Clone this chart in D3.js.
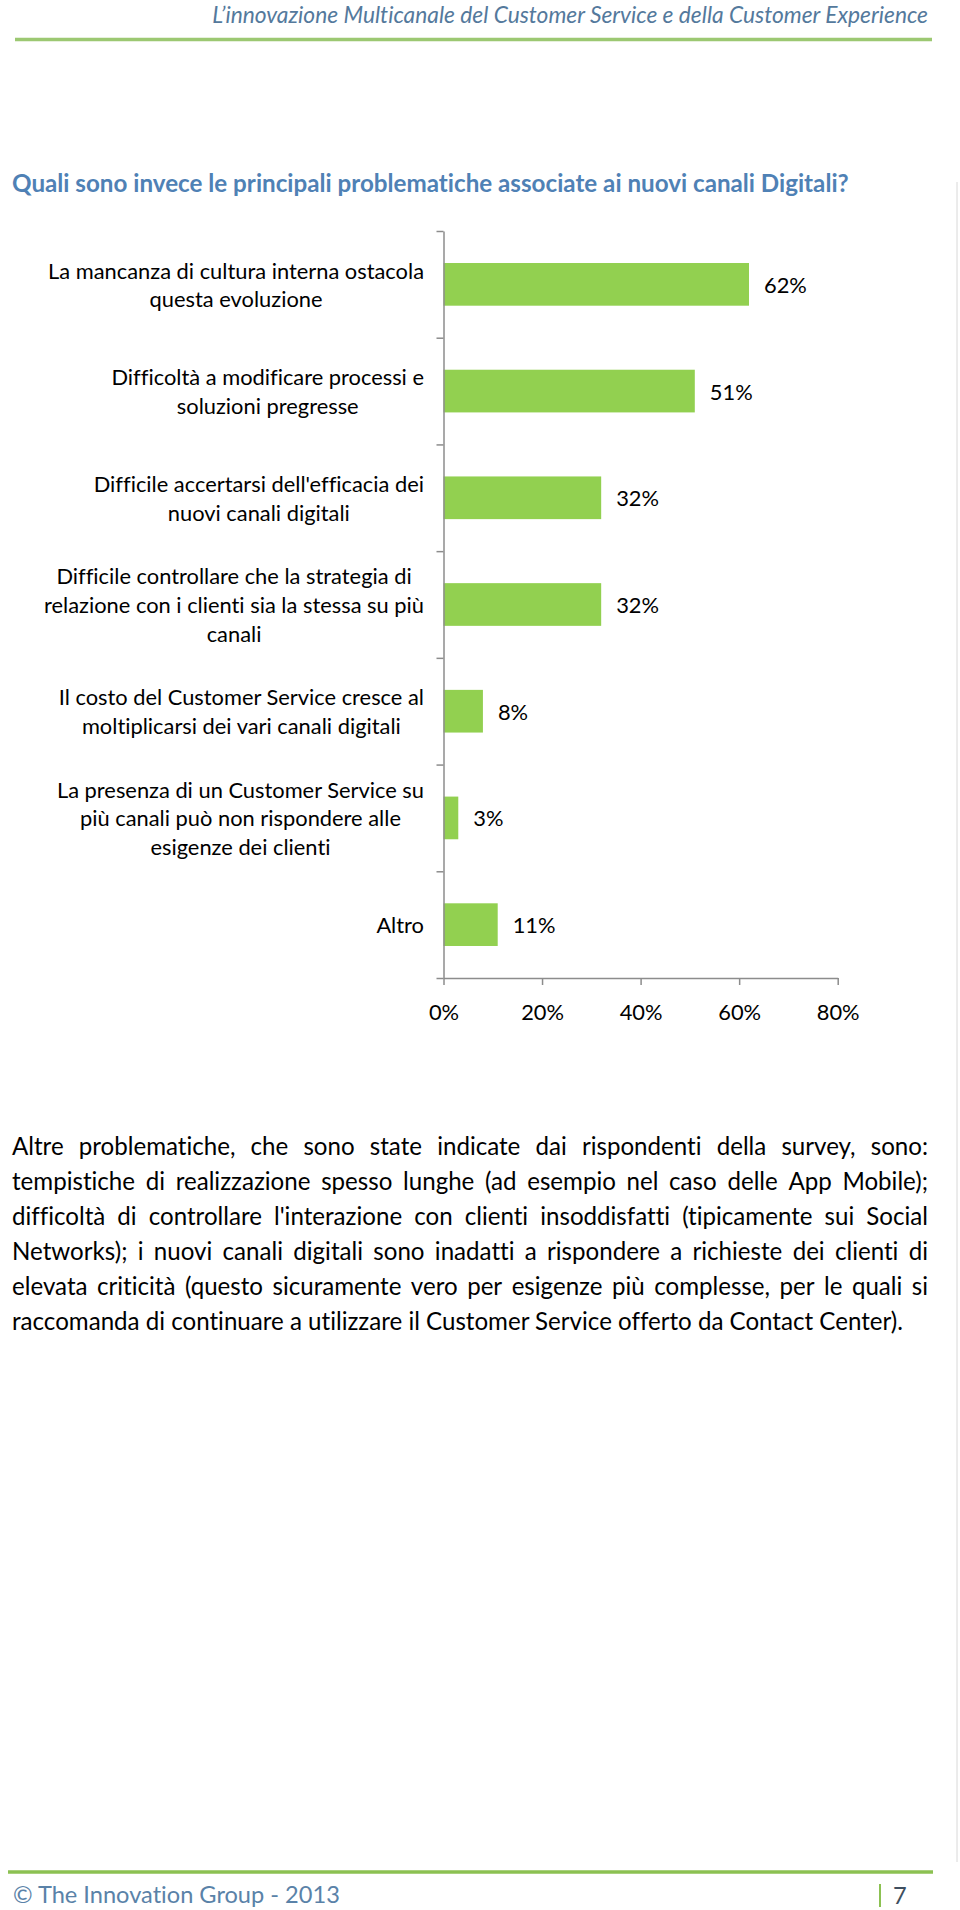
<!DOCTYPE html>
<html><head><meta charset="utf-8">
<script src="https://cdn.jsdelivr.net/npm/d3@7"></script>
<style>body{margin:0;background:#fff}svg{display:block}text{font-variant-ligatures:none;font-feature-settings:"liga" 0,"clig" 0}</style>
</head><body>
<svg id="c" width="960" height="1910"></svg>
<script>
// ---------- data ----------
const headerText = "L\u2019innovazione Multicanale del Customer Service e della Customer Experience";
const titleText = "Quali sono invece le principali problematiche associate ai nuovi canali Digitali?";
const categoryLines = [
  ["La mancanza di cultura interna ostacola", "questa evoluzione"],
  ["Difficoltà a modificare processi e", "soluzioni pregresse"],
  ["Difficile accertarsi dell'efficacia dei", "nuovi canali digitali"],
  ["Difficile controllare che la strategia di", "relazione con i clienti sia la stessa su più", "canali"],
  ["Il costo del Customer Service cresce al", "moltiplicarsi dei vari canali digitali"],
  ["La presenza di un Customer Service su", "più canali può non rispondere alle", "esigenze dei clienti"],
  ["Altro"]
];
const values = [62, 51, 32, 32, 8, 3, 11];
const xTickValues = [0, 20, 40, 60, 80];
const bodyLines = [
  "Altre problematiche, che sono state indicate dai rispondenti della survey, sono:",
  "tempistiche di realizzazione spesso lunghe (ad esempio nel caso delle App Mobile);",
  "difficoltà di controllare l'interazione con clienti insoddisfatti (tipicamente sui Social",
  "Networks); i nuovi canali digitali sono inadatti a rispondere a richieste dei clienti di",
  "elevata criticità (questo sicuramente vero per esigenze più complesse, per le quali si",
  "raccomanda di continuare a utilizzare il Customer Service offerto da Contact Center)."
];
const footerText = "\u00A9 The Innovation Group - 2013";
const pageNumber = "7";

// ---------- helpers ----------
const FONT = "Lato, 'Open Sans', 'DejaVu Sans', sans-serif";
const svg = d3.select("#c");
const meas = svg.append("text").attr("font-family", FONT).attr("visibility", "hidden");
function textW(s, size, weight = "normal", style = "normal") {
  meas.attr("font-size", size).attr("font-weight", weight).attr("font-style", style).text(s);
  return meas.node().getComputedTextLength();
}
function fit(s, target, weight = "normal", style = "normal") {
  return 100 * target / textW(s, 100, weight, style);
}

// ---------- header ----------
const headerSize = fit(headerText, 716, "normal", "italic");
svg.append("text").attr("x", 928).attr("y", 14).attr("text-anchor", "end")
  .attr("dominant-baseline", "central").attr("font-family", FONT).attr("font-style", "italic")
  .attr("font-size", headerSize).attr("fill", "#54799c").text(headerText);
svg.append("line").attr("x1", 15).attr("x2", 932).attr("y1", 39.5).attr("y2", 39.5)
  .attr("stroke", "#9cc872").attr("stroke-width", 3.5);

// page edge
svg.append("line").attr("x1", 957).attr("x2", 957).attr("y1", 182).attr("y2", 1862)
  .attr("stroke", "#d8d8d8").attr("stroke-width", 1);

// ---------- title ----------
const titleSize = fit(titleText, 837, "bold");
svg.append("text").attr("x", 12).attr("y", 182).attr("dominant-baseline", "central")
  .attr("font-family", FONT).attr("font-weight", "bold").attr("font-size", titleSize)
  .attr("fill", "#4f81b5").text(titleText);

// ---------- chart ----------
const x0 = 443.5, yTop = 231, yBot = 978;
const x = d3.scaleLinear().domain([0, 80]).range([x0, 837.7]);
const y = d3.scaleBand().domain(d3.range(categoryLines.length)).range([yTop, yBot])
  .paddingInner(0.6).paddingOuter(0.3);
const yB = d3.scaleLinear().domain([0, categoryLines.length]).range([yTop, yBot]);
const catSize = fit(categoryLines[0][0], 376);
const axisColor = "#8c8c8c";

// bars
svg.append("g").selectAll("rect").data(values).join("rect")
  .attr("x", x(0)).attr("y", (d, i) => y(i))
  .attr("width", d => x(d) - x(0)).attr("height", y.bandwidth())
  .attr("fill", "#92d050");

// value labels
svg.append("g").selectAll("text").data(values).join("text")
  .attr("x", d => x(d) + 15).attr("y", (d, i) => y(i) + y.bandwidth() / 2)
  .attr("dominant-baseline", "central").attr("font-family", FONT).attr("font-size", catSize)
  .attr("fill", "#000").text(d => d + "%");

// y axis
const yAxis = svg.append("g").attr("transform", `translate(${x0},0)`)
  .call(d3.axisLeft(yB).tickValues(d3.range(categoryLines.length + 1)).tickFormat("").tickSize(7).tickSizeOuter(0));
yAxis.selectAll("path,line").attr("stroke", axisColor).attr("stroke-width", 1.5);

// x axis
const xAxis = svg.append("g").attr("transform", `translate(0,${yBot})`)
  .call(d3.axisBottom(x).tickValues(xTickValues).tickFormat(d => d + "%").tickSize(7).tickSizeOuter(0));
xAxis.selectAll("path,line").attr("stroke", axisColor).attr("stroke-width", 1.5);
xAxis.selectAll("text").attr("y", 33).attr("dy", null).attr("dominant-baseline", "central")
  .attr("font-family", FONT).attr("font-size", catSize).attr("fill", "#000");

// category labels
const R = 424, lineH = 28.6;
categoryLines.forEach((lines, i) => {
  const w = d3.max(lines, l => textW(l, catSize));
  const cx = R - w / 2;
  const cy = y(i) + y.bandwidth() / 2;
  const t = svg.append("text").attr("font-family", FONT).attr("font-size", catSize)
    .attr("fill", "#000").attr("text-anchor", "middle");
  lines.forEach((l, k) => {
    t.append("tspan").attr("x", cx).attr("y", cy + (k - (lines.length - 1) / 2) * lineH)
      .attr("dominant-baseline", "central").text(l);
  });
});

// ---------- body ----------
const bodySize = fit(bodyLines[bodyLines.length - 1], 891);
const bodyLeft = 12, bodyRight = 928, bodyY0 = 1145, bodyStep = 35;
bodyLines.forEach((line, i) => {
  const yy = bodyY0 + i * bodyStep;
  const g = svg.append("text").attr("font-family", FONT).attr("font-size", bodySize).attr("fill", "#000");
  if (i === bodyLines.length - 1) {
    g.append("tspan").attr("x", bodyLeft).attr("y", yy).attr("dominant-baseline", "central").text(line);
    return;
  }
  const words = line.split(" ");
  const ws = words.map(w => textW(w, bodySize));
  const gap = (bodyRight - bodyLeft - d3.sum(ws)) / (words.length - 1);
  let cx = bodyLeft;
  words.forEach((w, k) => {
    g.append("tspan").attr("x", cx).attr("y", yy).attr("dominant-baseline", "central").text(w);
    cx += ws[k] + gap;
  });
});

// ---------- footer ----------
svg.append("line").attr("x1", 8).attr("x2", 933).attr("y1", 1872).attr("y2", 1872)
  .attr("stroke", "#8cc152").attr("stroke-width", 3.5);
const footSize = fit(footerText, 327);
svg.append("text").attr("x", 13).attr("y", 1894).attr("dominant-baseline", "central")
  .attr("font-family", FONT).attr("font-size", footSize).attr("fill", "#5a82a8").text(footerText);
svg.append("line").attr("x1", 880).attr("x2", 880).attr("y1", 1884).attr("y2", 1907)
  .attr("stroke", "#8cc152").attr("stroke-width", 2);
svg.append("text").attr("x", 893).attr("y", 1895).attr("dominant-baseline", "central")
  .attr("font-family", FONT).attr("font-size", footSize).attr("fill", "#3f4f5f").text(pageNumber);

meas.remove();
</script>
</body></html>
